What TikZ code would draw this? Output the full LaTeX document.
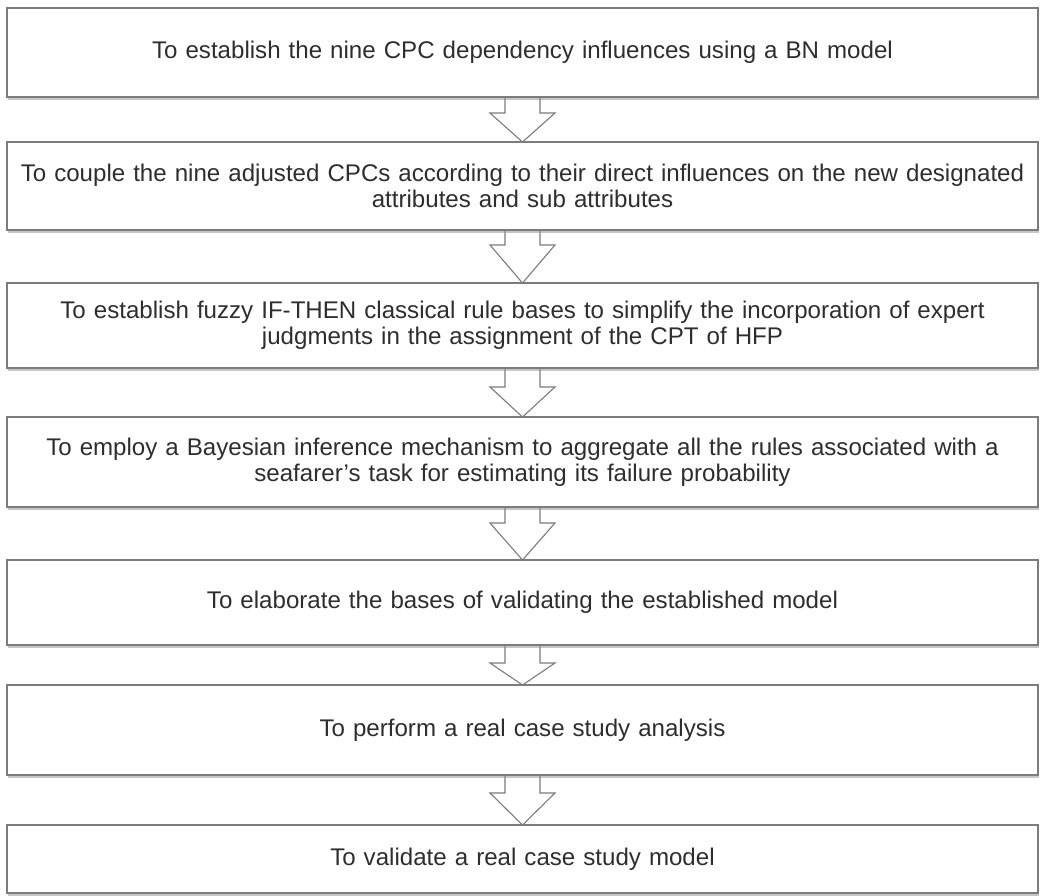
\documentclass[tikz,border=0pt]{standalone}
\usepackage{fontspec}
\setmainfont{Liberation Sans}
\usetikzlibrary{calc,shadows}
\definecolor{edgegray}{HTML}{7C7C7C}
\definecolor{shadegray}{HTML}{8E8E8E}
\definecolor{inkgray}{HTML}{2E2E2E}
\tikzset{
  stagebox/.style={draw=edgegray, line width=1.1pt, fill=white, outer sep=0pt,
    minimum width=1031, text width=1025, align=center, inner sep=0pt,
    text=inkgray, font=\fontsize{24.1}{26}\selectfont,
    drop shadow={shadow xshift=1.2pt, shadow yshift=-3pt, fill=shadegray}},
  flowarrow/.style={draw=edgegray, line width=1.1pt, fill=white, line join=miter}
}
% block arrow from the bottom of one stage to the top of the next
\newcommand{\stagearrow}[3]{%
  \draw[flowarrow] ($(#1.south)+(-17.5,0)$) -- ($(#1.south)+(-17.5,#3)$)
    -- ($(#1.south)+(-32.5,#3)$) -- (#2.north)
    -- ($(#1.south)+(32.5,#3)$) -- ($(#1.south)+(17.5,#3)$)
    -- ($(#1.south)+(17.5,0)$);}
\begin{document}
\begin{tikzpicture}[x=1pt,y=-1pt]
  \useasboundingbox[fill=white] (0,0) rectangle (1041,895);
  % stage coordinates
  \coordinate (p1) at (522.5,52.5);
  \coordinate (p2) at (522.5,186);
  \coordinate (p3) at (522.5,325.5);
  \coordinate (p4) at (522.5,462);
  \coordinate (p5) at (522.5,602.5);
  \coordinate (p6) at (522.5,730);
  \coordinate (p7) at (522.5,859);
  % invisible placeholders so arrows can be drawn under the stages
  \foreach \i/\h in {1/89,2/88,3/85,4/90,5/85,6/90,7/68}
    \node[minimum width=1031, minimum height=\h, inner sep=0pt, outer sep=0pt] (s\i) at (p\i) {};
  \stagearrow{s1}{s2}{16}
  \stagearrow{s2}{s3}{15}
  \stagearrow{s3}{s4}{19}
  \stagearrow{s4}{s5}{16}
  \stagearrow{s5}{s6}{18}
  \stagearrow{s6}{s7}{18}
  % stages
  \node[stagebox, minimum height=89] (b1) at (p1) {To establish the nine CPC dependency influences using a BN model};
  \node[stagebox, minimum height=88] (b2) at (p2) {To couple the nine adjusted CPCs according to their direct influences on the new designated\\attributes and sub attributes};
  \node[stagebox, minimum height=85] (b3) at (p3) {To establish fuzzy IF-THEN classical rule bases to simplify the incorporation of expert\\judgments in the assignment of the CPT of HFP};
  \node[stagebox, minimum height=90] (b4) at (p4) {To employ a Bayesian inference mechanism to aggregate all the rules associated with a\\seafarer’s task for estimating its failure probability};
  \node[stagebox, minimum height=85] (b5) at (p5) {To elaborate the bases of validating the established model};
  \node[stagebox, minimum height=90] (b6) at (p6) {To perform a real case study analysis};
  \node[stagebox, minimum height=68] (b7) at (p7) {To validate a real case study model};
\end{tikzpicture}
\end{document}
